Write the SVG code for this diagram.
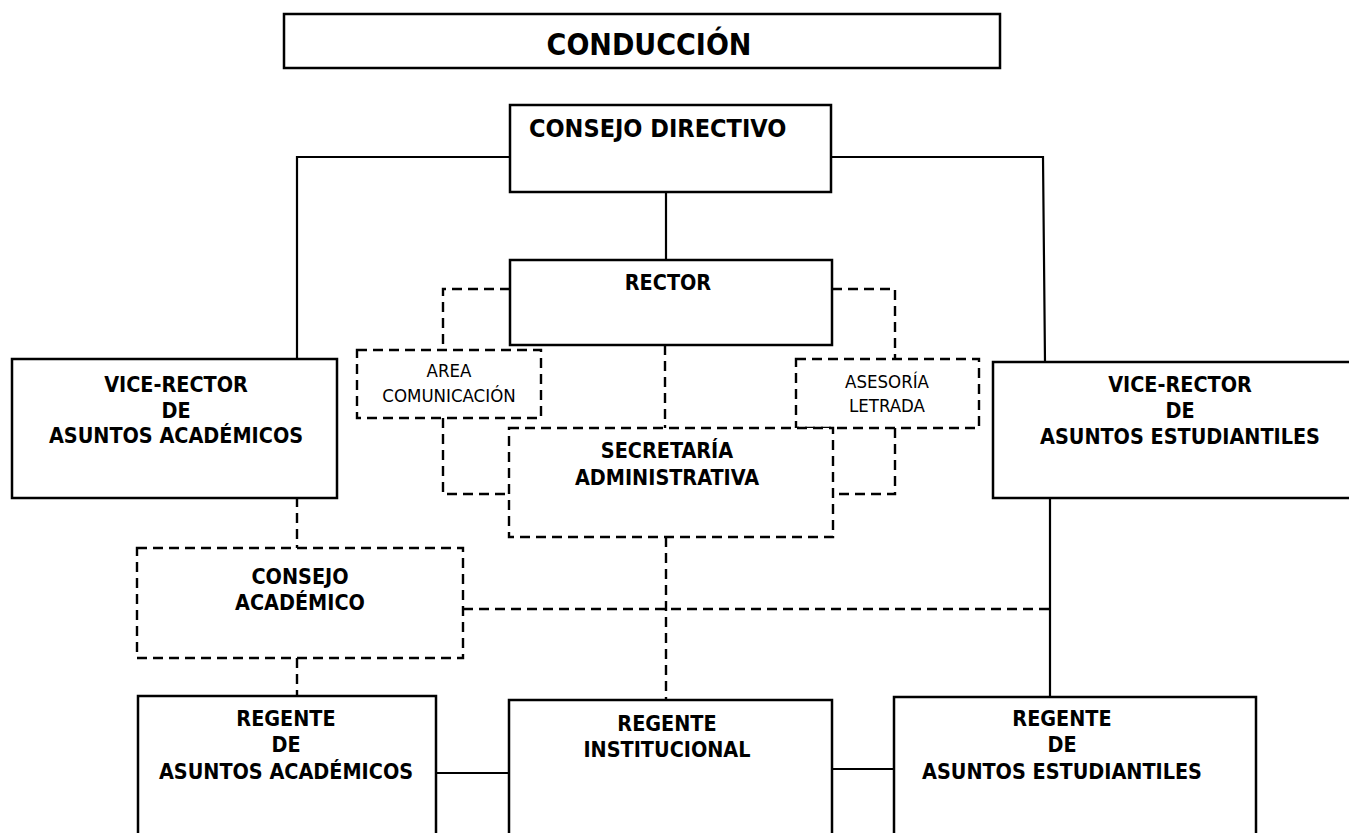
<svg xmlns="http://www.w3.org/2000/svg" width="1349" height="833" viewBox="0 0 1349 833">
<style>
.box{fill:#fff;stroke:#000;stroke-width:2.5}
.dbox{fill:#fff;stroke:#000;stroke-width:2.4;stroke-dasharray:10 6}
.ln{fill:none;stroke:#000;stroke-width:2.2}
.dl{fill:none;stroke:#000;stroke-width:2.4;stroke-dasharray:10 6}
text{font-family:"DejaVu Sans Condensed","DejaVu Sans","Liberation Sans",sans-serif;font-stretch:condensed;fill:#000}
.b{font-weight:bold;font-size:21.4px;text-anchor:middle}
.n{font-size:18.5px;text-anchor:middle}
</style>
<rect width="1349" height="833" fill="#fff"/>
<g id="connectors">
<polyline class="ln" points="510,157 297,157 297,360"/>
<polyline class="ln" points="831,157 1043,157 1045,362"/>
<line class="ln" x1="666" y1="192" x2="666" y2="260"/>
<polyline class="dl" points="510,289 443,289 443,350"/>
<polyline class="dl" points="832,289 895,289 895,359"/>
<line class="dl" x1="665" y1="345" x2="665" y2="428"/>
<polyline class="dl" points="443,418 443,494 509,494"/>
<polyline class="dl" points="895,428 895,494 833,494"/>
<line class="dl" x1="297" y1="497" x2="297" y2="548"/>
<line class="dl" x1="463" y1="609" x2="1050" y2="609"/>
<line class="ln" x1="1050" y1="498" x2="1050" y2="697"/>
<line class="dl" x1="666" y1="537" x2="666" y2="700"/>
<line class="dl" x1="297" y1="658" x2="297" y2="696"/>
<line class="ln" x1="436" y1="773" x2="509" y2="773"/>
<line class="ln" x1="832" y1="769" x2="894" y2="769"/>
</g>
<g id="conduccion">
<rect class="box" x="284" y="14" width="716" height="54"/>
<text x="649" y="55" style="font-weight:bold;font-size:30px;text-anchor:middle">CONDUCCIÓN</text>
</g>
<g id="consejo-directivo">
<rect class="box" x="510" y="105" width="321" height="87"/>
<text x="529" y="137" style="font-weight:bold;font-size:25px">CONSEJO DIRECTIVO</text>
</g>
<g id="rector">
<rect class="box" x="510" y="260" width="322" height="85"/>
<text class="b" x="668" y="290">RECTOR</text>
</g>
<g id="area-comunicacion">
<rect class="dbox" x="357" y="350" width="184" height="68"/>
<text class="n" x="449" y="377">AREA</text>
<text class="n" x="449" y="402">COMUNICACIÓN</text>
</g>
<g id="asesoria-letrada">
<rect class="dbox" x="796" y="359" width="183" height="69"/>
<text class="n" x="887" y="388">ASESORÍA</text>
<text class="n" x="887" y="412">LETRADA</text>
</g>
<g id="secretaria">
<rect class="dbox" x="509" y="428" width="324" height="109"/>
<text class="b" x="667" y="458">SECRETARÍA</text>
<text class="b" x="667" y="485">ADMINISTRATIVA</text>
</g>
<g id="vr-academicos">
<rect class="box" x="12" y="359" width="325" height="139"/>
<text class="b" x="176" y="392">VICE-RECTOR</text>
<text class="b" x="176" y="418">DE</text>
<text class="b" x="176" y="443">ASUNTOS ACADÉMICOS</text>
</g>
<g id="vr-estudiantiles">
<rect class="box" x="993" y="362" width="370" height="136"/>
<text class="b" x="1180" y="392">VICE-RECTOR</text>
<text class="b" x="1180" y="418">DE</text>
<text class="b" x="1180" y="444">ASUNTOS ESTUDIANTILES</text>
</g>
<g id="consejo-academico">
<rect class="dbox" x="137" y="548" width="326" height="110"/>
<text class="b" x="300" y="584">CONSEJO</text>
<text class="b" x="300" y="610">ACADÉMICO</text>
</g>
<g id="regente-academicos">
<rect class="box" x="138" y="696" width="298" height="160"/>
<text class="b" x="286" y="726">REGENTE</text>
<text class="b" x="286" y="752">DE</text>
<text class="b" x="286" y="779">ASUNTOS ACADÉMICOS</text>
</g>
<g id="regente-institucional">
<rect class="box" x="509" y="700" width="323" height="160"/>
<text class="b" x="667" y="731">REGENTE</text>
<text class="b" x="667" y="757">INSTITUCIONAL</text>
</g>
<g id="regente-estudiantiles">
<rect class="box" x="894" y="697" width="362" height="160"/>
<text class="b" x="1062" y="726">REGENTE</text>
<text class="b" x="1062" y="752">DE</text>
<text class="b" x="1062" y="779">ASUNTOS ESTUDIANTILES</text>
</g>
</svg>
